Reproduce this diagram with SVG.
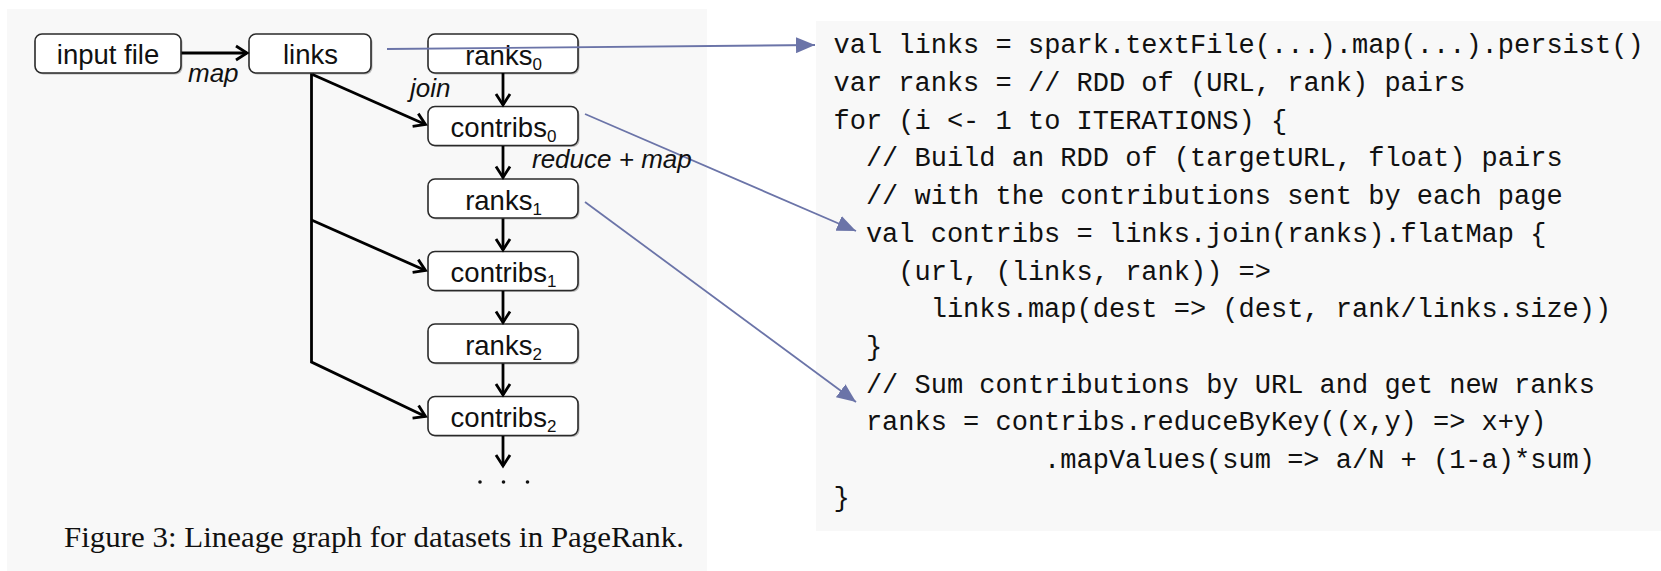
<svg xmlns="http://www.w3.org/2000/svg" width="1661" height="571" viewBox="0 0 1661 571">
<style>
.bg{fill:#f8f8f8}
.box{fill:#ffffff;stroke:#2a2a2a;stroke-width:1.6}
.shadow{fill:#b8b8b8}
.nt{font-family:"Liberation Sans",Arial,sans-serif;font-size:27.5px;fill:#111;text-anchor:middle}
.sub{font-size:17px}
.lbl{font-family:"Liberation Sans",Arial,sans-serif;font-size:26px;font-style:italic;fill:#111}
.edge{fill:none;stroke:#000;stroke-width:2.8;stroke-linejoin:miter}
.blue{fill:none;stroke:#6b74a8;stroke-width:1.8}
.code{font-family:"Liberation Mono","Courier New",monospace;font-size:27px;fill:#111}
.cap{font-family:"Liberation Serif","Times New Roman",serif;font-size:30px;fill:#111}
</style>
<defs>
<marker id="ah" markerUnits="userSpaceOnUse" markerWidth="16" markerHeight="18" viewBox="0 0 16 18" refX="13" refY="9" orient="auto">
<path d="M2,2 L13,9 L2,16" fill="none" stroke="#000" stroke-width="2.8"/>
</marker>
<marker id="bh" markerUnits="userSpaceOnUse" markerWidth="20" markerHeight="16" viewBox="0 0 20 16" refX="19" refY="8" orient="auto">
<path d="M0,0 L19,8 L0,16 z" fill="#6b74a8"/>
</marker>
</defs>
<rect class="bg" x="7" y="9" width="700" height="562"/>
<rect class="bg" x="816" y="21" width="845" height="510"/>

<g id="node-input">
<rect class="shadow" x="36.5" y="35.5" width="146" height="39" rx="7"/>
<rect class="box" x="35" y="34" width="146" height="39" rx="7"/>
<text class="nt" x="108" y="64">input file</text>
</g>
<g id="node-links">
<rect class="shadow" x="250.5" y="35.5" width="122" height="39" rx="7"/>
<rect class="box" x="249" y="34" width="122" height="39" rx="7"/>
<text class="nt" x="310.5" y="64">links</text>
</g>
<g id="node-ranks0">
<rect class="shadow" x="429.5" y="35.5" width="150" height="39" rx="7"/>
<rect class="box" x="428" y="34" width="150" height="39" rx="7"/>
<text class="nt" x="503.5" y="65">ranks<tspan class="sub" dy="5">0</tspan></text>
</g>
<g id="node-contribs0">
<rect class="shadow" x="429.5" y="108" width="150" height="39" rx="7"/>
<rect class="box" x="428" y="106.5" width="150" height="39" rx="7"/>
<text class="nt" x="503.5" y="137">contribs<tspan class="sub" dy="5">0</tspan></text>
</g>
<g id="node-ranks1">
<rect class="shadow" x="429.5" y="180.5" width="150" height="39" rx="7"/>
<rect class="box" x="428" y="179" width="150" height="39" rx="7"/>
<text class="nt" x="503.5" y="210">ranks<tspan class="sub" dy="5">1</tspan></text>
</g>
<g id="node-contribs1">
<rect class="shadow" x="429.5" y="253" width="150" height="39" rx="7"/>
<rect class="box" x="428" y="251.5" width="150" height="39" rx="7"/>
<text class="nt" x="503.5" y="282">contribs<tspan class="sub" dy="5">1</tspan></text>
</g>
<g id="node-ranks2">
<rect class="shadow" x="429.5" y="325.5" width="150" height="39" rx="7"/>
<rect class="box" x="428" y="324" width="150" height="39" rx="7"/>
<text class="nt" x="503.5" y="355">ranks<tspan class="sub" dy="5">2</tspan></text>
</g>
<g id="node-contribs2">
<rect class="shadow" x="429.5" y="398" width="150" height="39" rx="7"/>
<rect class="box" x="428" y="396.5" width="150" height="39" rx="7"/>
<text class="nt" x="503.5" y="427">contribs<tspan class="sub" dy="5">2</tspan></text>
</g>
<g id="dots">
<circle cx="480" cy="482" r="1.8" fill="#111"/>
<circle cx="503.5" cy="482" r="1.8" fill="#111"/>
<circle cx="527.5" cy="482" r="1.8" fill="#111"/>
</g>

<g id="connectors">
<line class="edge" x1="181.5" y1="53" x2="247" y2="53" marker-end="url(#ah)"/>
<line class="edge" x1="503" y1="73" x2="503" y2="105" marker-end="url(#ah)"/>
<line class="edge" x1="503" y1="146" x2="503" y2="177.5" marker-end="url(#ah)"/>
<line class="edge" x1="503" y1="218.5" x2="503" y2="250" marker-end="url(#ah)"/>
<line class="edge" x1="503" y1="291" x2="503" y2="322.5" marker-end="url(#ah)"/>
<line class="edge" x1="503" y1="363.5" x2="503" y2="395" marker-end="url(#ah)"/>
<line class="edge" x1="503" y1="436" x2="503" y2="466" marker-end="url(#ah)"/>
<line class="edge" x1="312.5" y1="74.5" x2="425.5" y2="124.5" marker-end="url(#ah)"/>
<line class="edge" x1="311.5" y1="220" x2="425.5" y2="270.5" marker-end="url(#ah)"/>
<polyline class="edge" points="311.5,73.5 311.5,362 425.5,416.5" marker-end="url(#ah)"/>
<line class="blue" x1="387" y1="49" x2="815" y2="45" marker-end="url(#bh)"/>
<line class="blue" x1="585" y1="114" x2="856" y2="231" marker-end="url(#bh)"/>
<line class="blue" x1="585" y1="202" x2="856" y2="402" marker-end="url(#bh)"/>
<text class="lbl" x="188" y="82">map</text>
<text class="lbl" x="410" y="97">join</text>
<text class="lbl" x="532" y="168">reduce + map</text>
</g>

<text class="cap" x="64" y="547" textLength="620" lengthAdjust="spacingAndGlyphs">Figure 3: Lineage graph for datasets in PageRank.</text>

<g id="code">
<text class="code" x="833.5" y="53.3">val links = spark.textFile(...).map(...).persist()</text>
<text class="code" x="833.5" y="91">var ranks = // RDD of (URL, rank) pairs</text>
<text class="code" x="833.5" y="128.7">for (i &lt;- 1 to ITERATIONS) {</text>
<text class="code" x="865.9" y="166.4">// Build an RDD of (targetURL, float) pairs</text>
<text class="code" x="865.9" y="204.1">// with the contributions sent by each page</text>
<text class="code" x="865.9" y="241.8">val contribs = links.join(ranks).flatMap {</text>
<text class="code" x="898.3" y="279.5">(url, (links, rank)) =&gt;</text>
<text class="code" x="930.7" y="317.2">links.map(dest =&gt; (dest, rank/links.size))</text>
<text class="code" x="865.9" y="354.9">}</text>
<text class="code" x="865.9" y="392.6">// Sum contributions by URL and get new ranks</text>
<text class="code" x="865.9" y="430.3">ranks = contribs.reduceByKey((x,y) =&gt; x+y)</text>
<text class="code" x="1044.1" y="468">.mapValues(sum =&gt; a/N + (1-a)*sum)</text>
<text class="code" x="833.5" y="505.7">}</text>
</g>
</svg>
